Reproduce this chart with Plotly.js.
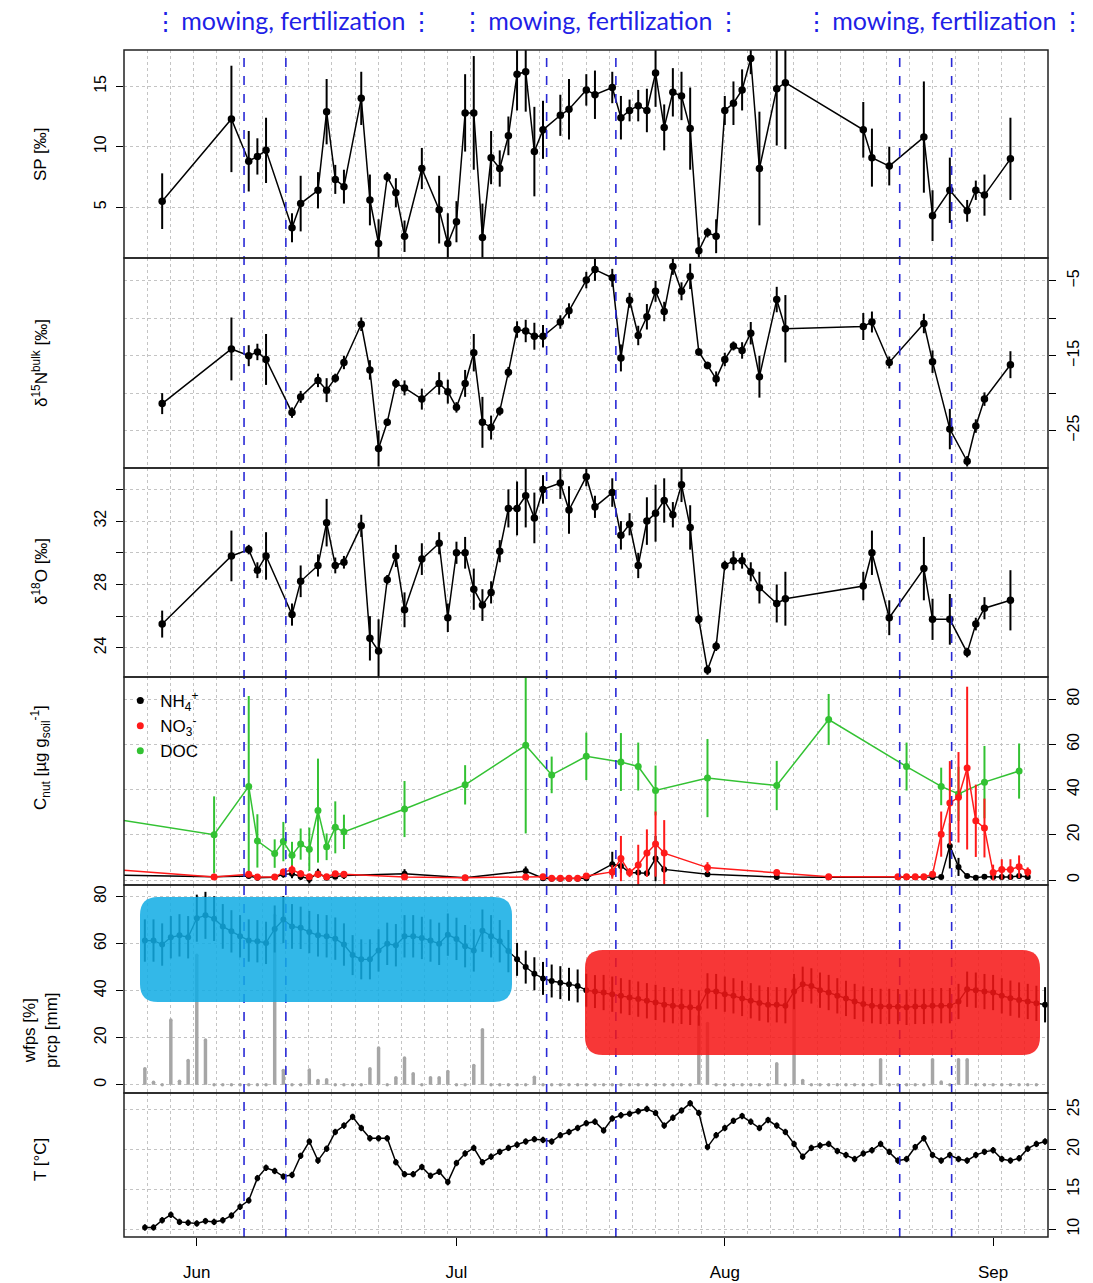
<!DOCTYPE html>
<html><head><meta charset="utf-8">
<script src="https://cdn.plot.ly/plotly-3.0.1.min.js"></script>
<style>html,body{margin:0;padding:0;background:#fff}#chart{width:1093px;height:1283px}</style>
</head><body><div id="chart"></div>
<script>
// ---------------- data ----------------
const YEAR = '2013-';
const monthTicks = ['06-01', '07-01', '08-01', '09-01'];
const eventDates = ['06-06 11:00', '06-11 07:00', '07-11 10:00', '07-19 10:00', '08-21 05:00', '08-27 05:00'];
const eventLabel = '⋮\u2009mowing, fertilization\u2009⋮';

// isotope sampling dates (SP, d15N bulk, d18O)
const isoDates = ['05-28','06-05','06-07','06-08','06-09','06-12','06-13','06-15','06-16','06-17','06-18','06-20','06-21','06-22','06-23','06-24','06-25','06-27','06-29','06-30',
  '07-01','07-02','07-03','07-04','07-05','07-06','07-07','07-08','07-09','07-10','07-11','07-13','07-14','07-16','07-17','07-19','07-20','07-21','07-22','07-23',
  '07-24','07-25','07-26','07-27','07-28','07-29','07-30','07-31','08-01','08-02','08-03','08-04','08-05','08-07','08-08','08-17','08-18','08-20','08-24','08-25',
  '08-27','08-29','08-30','08-31','09-03'];
const spVal = [5.5,12.3,8.8,9.2,9.7,3.3,5.3,6.4,12.9,7.3,6.7,14.0,5.6,2.0,7.5,6.2,2.6,8.2,4.8,2.0,
  3.8,12.8,12.8,2.5,9.1,8.2,10.9,16.0,16.2,9.6,11.4,12.6,13.1,14.7,14.3,14.9,12.4,13.0,13.4,13.0,
  16.1,11.6,14.5,14.2,11.5,1.4,2.9,2.6,13.0,13.6,14.7,17.3,8.2,14.8,15.3,11.4,9.1,8.4,10.8,4.3,
  6.4,4.7,6.4,6.0,9.0];
const spErr = [2.3,4.4,2.5,1.5,2.7,1.2,2.3,1.5,2.7,1.2,1.4,2.2,2.1,2.0,0.4,1.2,1.3,1.7,2.8,2.5,
  1.7,3.2,4.7,2.8,2.2,1.5,1.6,3.0,3.3,3.7,2.4,1.7,2.5,1.3,2.0,1.3,1.8,0.9,1.3,1.8,
  2.8,1.9,2.0,2.0,3.4,1.1,0.4,1.4,1.2,1.8,1.7,1.3,4.7,4.7,5.5,2.3,2.4,1.6,4.6,2.1,
  2.7,0.9,0.8,1.7,3.4];
const d15nVal = [-21.4,-14.1,-15.0,-14.5,-15.5,-22.6,-20.5,-18.3,-19.6,-18.0,-15.9,-10.8,-16.9,-27.4,-23.9,-18.7,-19.3,-20.8,-18.7,-19.8,
  -21.9,-18.7,-14.6,-23.9,-24.6,-22.4,-17.2,-11.5,-11.7,-12.4,-12.4,-10.5,-9.0,-4.9,-3.5,-4.6,-15.3,-7.6,-12.3,-9.8,
  -6.4,-9.1,-3.1,-6.4,-4.4,-14.5,-16.3,-18.1,-15.5,-13.7,-14.3,-12.0,-17.8,-7.5,-11.4,-11.1,-10.5,-15.9,-10.7,-15.8,
  -24.8,-29.1,-24.4,-20.8,-16.2];
const d15nErr = [1.4,4.2,1.4,1.1,3.4,0.7,0.8,0.9,1.6,0.6,0.9,0.9,1.3,2.4,0.5,0.6,1.0,1.4,1.5,1.6,
  0.7,1.8,2.5,3.4,1.6,0.6,0.7,1.1,1.5,1.8,1.5,0.9,1.0,1.1,1.5,1.2,1.8,1.0,1.3,1.7,
  1.4,1.3,1.1,1.2,1.7,0.5,0.5,1.0,0.9,0.6,1.1,1.5,2.8,1.7,4.5,1.8,1.4,0.8,1.3,1.5,
  2.7,0.7,0.9,0.9,1.8];
const d18oVal = [25.5,29.8,30.2,28.9,29.8,26.1,28.2,29.2,31.9,29.2,29.4,31.7,24.6,23.8,28.3,29.8,26.4,29.6,30.6,25.9,
  30.0,30.0,27.7,26.7,27.5,30.1,32.8,32.8,33.6,32.2,34.0,34.4,32.7,34.8,32.9,33.8,31.1,31.8,29.2,32.0,
  32.5,33.3,32.4,34.3,31.6,25.8,22.6,24.1,29.2,29.5,29.5,28.8,27.8,26.8,27.1,27.9,30.0,25.9,29.0,25.8,
  25.8,23.7,25.5,26.5,27.0];
const d18oErr = [0.85,1.6,0.3,0.5,1.5,0.7,1.0,0.7,1.5,0.5,0.4,0.7,1.4,2.0,0.3,0.7,1.1,1.0,0.7,0.9,
  0.7,1.0,1.3,1.0,0.7,0.7,1.2,1.7,2.0,1.6,0.9,1.0,1.5,0.6,0.7,0.9,0.9,0.7,0.8,1.5,
  1.8,1.4,0.8,1.1,1.4,0.3,0.3,0.3,0.3,0.6,0.5,0.6,1.0,1.2,1.7,0.9,1.4,1.1,2.0,1.3,
  1.6,0.3,0.4,0.7,1.9];

// soil nutrient sampling (NH4+, NO3-)
const nDates = ['05-18','06-03','06-07','06-08','06-10','06-11','06-12','06-13','06-14','06-15','06-16','06-17','06-18','06-25','07-02','07-09',
  '07-11','07-12','07-13','07-14','07-15','07-16','07-19','07-20','07-21','07-22','07-23','07-24','07-25','07-30','08-07','08-13',
  '08-21','08-22','08-23','08-24','08-25','08-26','08-27','08-28','08-29','08-30','08-31','09-01','09-02','09-03','09-04','09-05'];
const nh4Val = [2.5,1.5,1.8,1.0,1.2,2.5,2.8,1.5,0.5,3.0,1.0,1.5,2.0,2.8,1.0,4.0,
  0.8,0.6,0.6,0.6,0.6,0.8,7.0,6.2,3.3,3.3,3.0,9.5,4.7,2.5,1.3,1.2,
  1.2,1.2,1.2,1.2,1.3,1.3,15.1,5.8,1.8,1.0,1.5,1.3,1.3,1.3,1.8,1.3];
const nh4Err = [0,0.8,1,0.8,0.8,1.5,2,1.5,2,2,1,1,1.5,2,0.5,2,
  0.5,0.3,0.3,0.3,0.3,0.5,5.5,3,1,1,1,10,1.5,1,0.5,0.5,
  0.3,0.3,0.3,0.3,0.5,0.5,10,4,0.8,0.5,0.5,0.5,0.5,0.5,0.5,0.5];
const no3Val = [6.0,1.3,2.5,1.3,1.3,3.5,4.5,2.8,1.5,2.5,1.5,2.8,2.5,1.3,1.0,1.3,
  1.5,0.8,0.8,0.8,0.8,1.8,3.6,9.5,3.3,6.7,11.9,15.9,11.9,5.5,3.3,1.5,
  1.5,1.5,1.5,1.5,2.5,20.3,34.1,36.6,49.5,26.2,23.0,3.3,4.7,4.7,5.9,3.6];
const no3Err = [0,0.5,1,0.5,0.5,1.5,2,1.5,1,1.5,0.8,1,1,0.5,0.3,0.5,
  0.3,0.3,0.3,0.3,0.3,0.5,3,10,2,8.9,10.5,14.4,14.6,2.4,1,0.5,
  0.3,0.3,0.3,0.5,1,10,18.5,20,36,16,13,3.5,4.5,4.5,5,2];
// dissolved organic carbon
const docDates = ['05-18','06-03','06-07','06-08','06-10','06-11','06-12','06-13','06-14','06-15','06-16','06-17','06-18','06-25','07-02',
  '07-09','07-12','07-16','07-20','07-22','07-24','07-30','08-07','08-13','08-22','08-26','08-28','08-31','09-04'];
const docVal = [29.7,20.0,41.4,17.3,11.7,17.0,11.0,15.9,13.6,30.7,14.7,23.3,21.3,31.4,42.1,
  59.6,46.5,54.7,52.2,50.2,39.6,45.1,41.8,71.0,50.2,41.4,38.1,43.3,48.2];
const docErr = [0,17,40,11.8,6.3,8.7,5.9,6.9,9.6,23,5.9,11.5,7.6,12.4,8.7,
  39,8.1,10.5,12.8,10.6,11,17.3,10.9,11.3,10.6,8.3,12,16,12.2];

// daily series, starting 26 May
const dailyStart = [2013, 4, 26];
const wfpsVal = [61.3,61.3,59.6,62.7,63.5,62.7,70.8,72.0,70.6,67.3,65.2,63.1,61.3,61.0,60.3,66.2,70.2,67.3,66.7,64.9,
  63.5,63.1,62.1,59.6,55.1,53.3,53.3,57.1,59.9,59.3,63.1,63.1,62.4,61.3,59.9,63.8,62.0,58.9,57.1,65.5,
  63.1,61.0,56.8,53.3,50.0,47.2,45.2,44.1,43.4,42.7,42.0,40.2,39.6,39.2,38.5,37.8,37.1,36.4,35.7,35.0,
  34.0,33.6,33.3,32.9,32.6,39.9,39.6,38.5,37.8,36.7,35.7,34.7,34.0,34.0,33.6,39.6,42.7,42.0,40.2,39.2,
  37.8,36.7,35.4,34.3,33.6,33.3,33.3,33.2,32.9,33.3,33.3,33.6,33.6,33.6,35.4,40.6,40.2,39.6,39.2,37.8,
  36.8,36.0,35.4,34.6,34.0];
const wfpsErr = [9,9,9,9,9,9,10,10,9.5,9.5,9,9,9,9,9,10,10,9.5,9,9,
  9,9,9,9,8.5,8.5,8.5,9,9,9,9,9,9,9,9,9,9,9,9,9,
  9,9,9,7,7,7,7,7,7,7,7,7,7,7.5,7.5,7.5,7.5,7.5,7.5,7.5,
  7.5,7.5,7.5,7.5,7.5,7.5,7.5,7.5,7.5,7.5,7.5,7.5,7.5,7.5,7.5,7.5,7.5,7.5,7.5,7.5,
  7.5,7.5,7.5,7.5,7.5,7.5,7.5,7.5,7.5,7.5,7.5,7.5,7.5,7.5,7.5,7.5,7.5,7.5,7.5,7.5,
  7.5,7.5,7.5,7.5,7.5];
const prcpVal = [6.8,1.1,0,27.5,1.5,10.3,55,19.0,0,0,0,0,0,0,0,72,6.1,0,0,6.3,
  1.8,2.1,0,0,0,0,6.8,15.6,0,3.0,11.4,4.7,0,3.0,3.0,5.6,0,0,8.2,23.4,
  0,0,0,0,0,3.2,0,0,0,0,0,0,0,0,0,0,0,0,0,0,
  0,0,0,0,29,26,0,0,0,0,0,0,0,8.9,0,45,1.8,0,0,0,
  0,0,0,0,0,10.6,0,0,0,0,0,10.6,1.2,0,10.6,10.6,0,0,0,0,
  0,0,0,0];
const tVal = [10.2,10.2,11.1,11.8,10.9,10.8,10.7,11.0,10.9,11.1,11.7,12.8,13.6,16.4,17.7,17.3,16.6,16.8,19.2,21.0,
  18.6,20.1,22.2,23.0,24.1,22.7,21.4,21.4,21.4,18.4,16.9,16.9,17.8,16.7,17.2,15.9,18.3,19.5,20.2,18.4,
  19.1,19.7,20.2,20.6,21.0,21.3,21.2,21.0,21.8,22.2,22.7,23.3,23.5,22.4,23.9,24.3,24.5,24.8,25.1,24.6,
  23.0,24.0,24.9,25.8,24.6,20.3,21.8,22.7,23.6,24.2,23.5,22.7,23.7,23.0,22.2,20.7,19.1,20.2,20.5,20.7,
  19.8,19.3,18.8,19.5,19.9,20.7,19.7,18.6,18.8,20.3,21.4,19.3,18.6,19.3,18.8,18.6,19.3,19.7,19.9,18.8,
  18.6,18.9,20.1,20.7,21.0];
const tErr = tVal.map(() => 0.4);

// ---------------- helpers ----------------
const full = a => a.map(s => YEAR + s);
function daily(n) {
  const t0 = Date.UTC(dailyStart[0], dailyStart[1], dailyStart[2]);
  return Array.from({length: n}, (_, i) => new Date(t0 + i * 864e5).toISOString().slice(0, 10));
}
const FONT = 'Liberation Sans, Arial, Helvetica, sans-serif';
const W = 1093, H = 1283, ML = 124, MR = 45, MT = 50, MB = 46;
const PW = W - ML - MR, PH = H - MT - MB, BOT = H - MB;
const panels = [[50, 258], [258, 468], [468, 677], [677, 885], [885, 1093], [1093, 1237]];
const dom = p => [(BOT - p[1]) / PH, (BOT - p[0]) / PH];
const px2x = px => (px - ML) / PW;
const px2y = py => (BOT - py) / PH;

function errTrace(x, y, err, yaxis, color, size, lw) {
  return {type: 'scatter', mode: 'lines+markers', x: x, y: y, xaxis: 'x', yaxis: yaxis,
    line: {color: color, width: lw}, marker: {color: color, size: size},
    error_y: {type: 'data', array: err, visible: true, color: color, thickness: 2, width: 0},
    showlegend: false, hoverinfo: 'skip'};
}

const isoX = full(isoDates), nX = full(nDates), docX = full(docDates);
const dX = daily(wfpsVal.length), pX = daily(prcpVal.length), tX = daily(tVal.length);

const GREEN = '#33c233', RED = '#ff1a1a';
const traces = [
  errTrace(isoX, spVal, spErr, 'y', '#000', 7.5, 1.5),
  errTrace(isoX, d15nVal, d15nErr, 'y2', '#000', 7.5, 1.5),
  errTrace(isoX, d18oVal, d18oErr, 'y3', '#000', 7.5, 1.5),
  errTrace(docX, docVal, docErr, 'y4', GREEN, 7, 1.5),
  errTrace(nX, nh4Val, nh4Err, 'y4', '#000', 6, 1.5),
  errTrace(nX, no3Val, no3Err, 'y4', RED, 7, 1.5),
  {type: 'bar', x: pX, y: prcpVal, xaxis: 'x', yaxis: 'y5', width: 0.4 * 864e5,
    marker: {color: '#a6a6a6', line: {width: 0}}, showlegend: false, hoverinfo: 'skip'},
  {type: 'scatter', mode: 'markers', x: pX, y: prcpVal, xaxis: 'x', yaxis: 'y5',
    marker: {color: '#a6a6a6', size: 3.5}, showlegend: false, hoverinfo: 'skip'},
  errTrace(dX, wfpsVal, wfpsErr, 'y5', '#000', 6, 1.3),
  errTrace(tX, tVal, tErr, 'y6', '#000', 5.5, 1.5),
  // legend entries
  {type: 'scatter', mode: 'markers', x: [null], y: [null], xaxis: 'x', yaxis: 'y4', name: 'NH<sub>4</sub><sup>+</sup>', marker: {color: '#000', size: 7}},
  {type: 'scatter', mode: 'markers', x: [null], y: [null], xaxis: 'x', yaxis: 'y4', name: 'NO<sub>3</sub><sup>-</sup>', marker: {color: RED, size: 7}},
  {type: 'scatter', mode: 'markers', x: [null], y: [null], xaxis: 'x', yaxis: 'y4', name: 'DOC', marker: {color: GREEN, size: 7}}
];

const GRID = {showgrid: true, gridcolor: '#c4c4c4', griddash: 'dot', gridwidth: 1};
function yax(i, o, minorVals) {
  const a = Object.assign({domain: dom(panels[i]), anchor: 'x', zeroline: false, ticks: 'outside', ticklen: 7, tickwidth: 1,
    tickcolor: '#000', tickangle: -90, automargin: false,
    tickfont: {size: 16, family: FONT, color: '#000'}, showline: false, fixedrange: true, ticklabelstandoff: 4}, GRID, o);
  if (minorVals) a.minor = Object.assign({tickmode: 'array', tickvals: minorVals, ticks: 'outside', ticklen: 7, tickwidth: 1, tickcolor: '#000'}, GRID);
  return a;
}

const x0ms = Date.UTC(2013, 4, 23, 14, 10), x1ms = Date.UTC(2013, 8, 7, 8, 10);
const layout = {
  width: W, height: H, margin: {l: ML, r: MR, t: MT, b: MB}, paper_bgcolor: '#fff', plot_bgcolor: '#fff',
  font: {family: FONT, color: '#000'},
  showlegend: true,
  legend: {x: -0.004, y: px2y(683), xanchor: 'left', yanchor: 'top', bgcolor: 'rgba(0,0,0,0)', font: {size: 17, family: FONT}, tracegroupgap: 0, itemwidth: 30},
  xaxis: {type: 'date', range: [new Date(x0ms).toISOString(), new Date(x1ms).toISOString()], anchor: 'y6',
    tickvals: full(monthTicks), tickformat: '%b', ticks: 'outside', ticklen: 8, tickcolor: '#000', tickwidth: 1,
    showgrid: false, zeroline: false, showline: false, automargin: false, ticklabelstandoff: 12,
    tickfont: {size: 17, family: FONT, color: '#000'},
    minor: Object.assign({tick0: new Date(x0ms).toISOString(), dtick: (x1ms - x0ms) / 40, ticks: ''}, GRID)},
  yaxis: yax(0, {range: [0.8, 18], tickvals: [5, 10, 15], side: 'left'}),
  yaxis2: yax(1, {range: [-30, -1.95], tickvals: [-25, -15, -5], side: 'right'}, [-20, -10]),
  yaxis3: yax(2, {range: [22.16, 35.35], tickvals: [24, 28, 32], side: 'left'}, [26, 30, 34]),
  yaxis4: yax(3, {range: [-2.2, 89.8], tickvals: [0, 20, 40, 60, 80], side: 'right'}),
  yaxis5: yax(4, {range: [-3.5, 84.9], tickvals: [0, 20, 40, 60, 80], side: 'left'}),
  yaxis6: yax(5, {range: [9.0, 27.1], tickvals: [10, 15, 20, 25], side: 'right'}),
  shapes: [], annotations: []
};

// event lines
eventDates.forEach(d => layout.shapes.push({type: 'line', xref: 'x', yref: 'paper', x0: YEAR + d, x1: YEAR + d, y0: 0, y1: 1,
  line: {color: '#2a2ad6', width: 1.6, dash: 'dash'}, layer: 'above'}));

// highlight boxes (wfps regimes)
function rrect(x0, y0, x1, y1, r) {
  const X0 = px2x(x0), X1 = px2x(x1), Yt = px2y(y0), Yb = px2y(y1), rx = r / PW, ry = r / PH;
  return `M${X0 + rx},${Yt} L${X1 - rx},${Yt} Q${X1},${Yt} ${X1},${Yt - ry} L${X1},${Yb + ry} Q${X1},${Yb} ${X1 - rx},${Yb} ` +
    `L${X0 + rx},${Yb} Q${X0},${Yb} ${X0},${Yb + ry} L${X0},${Yt - ry} Q${X0},${Yt} ${X0 + rx},${Yt} Z`;
}
layout.shapes.push({type: 'path', xref: 'paper', yref: 'paper', path: rrect(140, 897, 512, 1002, 18),
  fillcolor: 'rgba(18,172,228,0.86)', line: {width: 0}, layer: 'above'});
layout.shapes.push({type: 'path', xref: 'paper', yref: 'paper', path: rrect(585, 950, 1040, 1055, 18),
  fillcolor: 'rgba(246,22,22,0.86)', line: {width: 0}, layer: 'above'});

// panel frames
panels.forEach(p => layout.shapes.push({type: 'rect', xref: 'paper', yref: 'paper', x0: 0, x1: 1, y0: px2y(p[1]), y1: px2y(p[0]),
  line: {color: '#222', width: 1.5}, fillcolor: 'rgba(0,0,0,0)', layer: 'above'}));

// y titles
const yTitles = [
  ['SP [‰]', 154], ['δ<sup>15</sup>N<sup>bulk</sup> [‰]', 363], ['δ<sup>18</sup>O [‰]', 572],
  ['C<sub>nut</sub> [µg g<sub>soil</sub><sup>-1</sup>]', 758], ['wfps [%]<br>prcp [mm]', 1030], ['T [°C]', 1160]
];
yTitles.forEach(t => layout.annotations.push({text: t[0], xref: 'paper', yref: 'paper', x: px2x(40), y: px2y(t[1]),
  xanchor: 'center', yanchor: 'middle', textangle: -90, showarrow: false, font: {size: 17, family: FONT, color: '#000'}}));

// event labels on top
[293, 600, 944].forEach(cx => layout.annotations.push({text: eventLabel, xref: 'paper', yref: 'paper', x: px2x(cx), y: px2y(20),
  xanchor: 'center', yanchor: 'middle', showarrow: false, font: {size: 25, family: 'Lato, Open Sans, sans-serif', color: '#1f1fe6'}}));

Plotly.newPlot('chart', traces, layout, {staticPlot: true, displayModeBar: false});
</script>
</body></html>
